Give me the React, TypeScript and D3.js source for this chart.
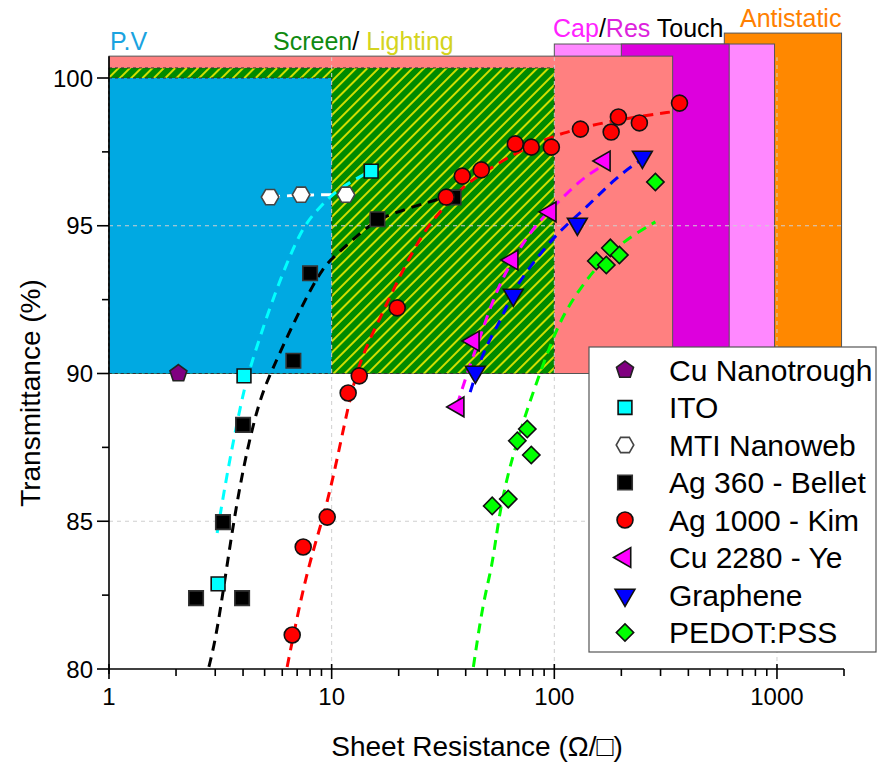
import React from 'react'
import * as d3 from 'd3'

// measured points (sheet resistance in ohm/sq, transmittance in %)
const cuNanoR = [2.05]
const cuNanoT = [90.0]
const itoR = [3.09, 4.04, 15.05]
const itoT = [82.88, 89.92, 96.85]
const mtiR = [5.29, 7.29, 11.6]
const mtiT = [95.97, 96.05, 96.05]
const ag360R = [2.46, 3.96, 3.25, 4.0, 6.73, 8.0, 16.06, 35.3]
const ag360T = [82.4, 82.4, 84.97, 88.26, 90.43, 93.39, 95.22, 95.96]
const ag1000R = [6.65, 7.45, 9.55, 11.86, 13.3, 19.7, 32.7, 38.6, 47, 66.8, 78.8, 97, 131, 180, 194, 241, 365]
const ag1000T = [81.15, 84.13, 85.14, 89.34, 89.92, 92.22, 95.97, 96.68, 96.89, 97.77, 97.66, 97.66, 98.27, 98.17, 98.68, 98.48, 99.15]
const cu2280R = [37.0, 43.3, 64.7, 95.9, 167.8]
const cu2280T = [88.87, 91.1, 93.84, 95.47, 97.19]
const grapheneR = [44.2, 65.4, 126.9, 248.6]
const grapheneT = [90.05, 92.66, 95.06, 97.33]
const pedotR = [52.6, 62.1, 68.2, 75.6, 78.8, 154.4, 171.2, 178.5, 196, 284.4]
const pedotT = [85.52, 85.75, 87.72, 88.12, 87.24, 93.81, 93.67, 94.25, 94.01, 96.48]

// fitted curves
const cyanFitR = [3.06, 3.39, 3.96, 4.3, 5.46, 7.22, 8.61, 10.16, 13.02, 15.05]
const cyanFitT = [84.6, 86.63, 89.2, 90.22, 92.59, 94.86, 95.53, 96.11, 96.62, 96.85]
const blackFitR = [2.81, 3.06, 3.5, 4.0, 4.72, 5.4, 6.51, 8.01, 9.16, 10.16, 13.43, 16.52, 27.2, 35.2]
const blackFitT = [80.07, 81.22, 84.26, 86.84, 89.1, 90.12, 91.47, 92.83, 93.57, 93.94, 94.75, 95.3, 95.8, 96.04]
const redFitR = [6.31, 7.76, 9.55, 11.5, 13.16, 16.52, 20.3, 25.8, 30.7, 39.0, 57.2, 75.6, 106.4, 184, 357]
const redFitT = [80.07, 83.45, 85.48, 88.43, 90.36, 91.88, 93.33, 94.79, 95.47, 96.38, 97.16, 97.66, 98.14, 98.58, 98.88]
const magentaFitR = [36.6, 40.6, 46.5, 55.4, 70.3, 83.9, 103.1, 130.9, 160.9, 178.5]
const magentaFitT = [88.93, 90.02, 91.24, 92.93, 94.28, 95.09, 95.77, 96.55, 96.99, 97.22]
const blueFitR = [41.9, 46.5, 52.6, 58.4, 65.4, 83.9, 106.4, 140.7, 184.1, 236, 270]
const blueFitT = [89.37, 90.47, 91.32, 91.9, 92.83, 93.94, 94.86, 95.64, 96.55, 97.16, 97.4]
const greenFitR = [43.3, 48.0, 52.6, 56.0, 62.1, 76.4, 93.0, 106.4, 130.9, 184.1, 284.4]
const greenFitT = [80.07, 82.33, 83.45, 85.04, 86.73, 88.93, 90.69, 91.81, 92.93, 94.28, 95.13]
const mtiFitR = mtiR
const mtiFitT = mtiT

// application windows: [Rmin, Rmax, Tmin, Tmax]
const antistaticBand = [580, 1950, 90, 101.52]
const touchBand = [100, 975, 90, 101.15]
const resTouchBand = [200, 610, 90, 101.15]
const screenBand = [1, 340, 90, 100.74]
const lightingBand = [1, 100, 90, 100.34]
const pvBand = [1, 10, 90, 100]

const xMajor = [1, 10, 100, 1000]
const xMinor = [2, 3, 4, 5, 6, 7, 8, 9, 20, 30, 40, 50, 60, 70, 80, 90, 200, 300, 400, 500, 600, 700, 800, 900, 2000]
const yMajor = [80, 85, 90, 95, 100]
const yMinor = [82.5, 87.5, 92.5, 97.5]
const xGrid = [10, 100, 1000]
const yGrid = [85, 95]

const FONT = '"Liberation Sans", Arial, sans-serif'

const polygon = (n: number, rot: number) => ({
  draw(ctx: any, size: number) {
    const r = Math.sqrt(size / ((n / 2) * Math.sin((2 * Math.PI) / n)))
    for (let i = 0; i < n; i++) {
      const a = rot + (i * 2 * Math.PI) / n
      const px = r * Math.sin(a)
      const py = -r * Math.cos(a)
      if (i === 0) ctx.moveTo(px, py)
      else ctx.lineTo(px, py)
    }
    ctx.closePath()
  },
})

const series = [
  { name: 'Cu Nanotrough', r: cuNanoR, t: cuNanoT, type: polygon(5, 0), size: 190, rot: 0, fill: '#800080', stroke: '#222' },
  { name: 'ITO', r: itoR, t: itoT, type: d3.symbolSquare, size: 190, rot: 0, fill: '#00FFFF', stroke: '#111' },
  { name: 'MTI Nanoweb', r: mtiR, t: mtiT, type: polygon(6, Math.PI / 6), size: 200, rot: 0, fill: '#FFFFFF', stroke: '#444' },
  { name: 'Ag 360 - Bellet', r: ag360R, t: ag360T, type: d3.symbolSquare, size: 210, rot: 0, fill: '#000000', stroke: '#333' },
  { name: 'Ag 1000 - Kim', r: ag1000R, t: ag1000T, type: d3.symbolCircle, size: 200, rot: 0, fill: '#FF0000', stroke: '#111' },
  { name: 'Cu 2280 - Ye', r: cu2280R, t: cu2280T, type: d3.symbolTriangle, size: 170, rot: -90, fill: '#FF00FF', stroke: '#111' },
  { name: 'Graphene', r: grapheneR, t: grapheneT, type: d3.symbolTriangle, size: 170, rot: 180, fill: '#0000FF', stroke: '#111' },
  { name: 'PEDOT:PSS', r: pedotR, t: pedotT, type: d3.symbolSquare, size: 150, rot: 45, fill: '#00FF00', stroke: '#111' },
]

const fits = [
  { r: mtiFitR, t: mtiFitT, color: '#FFFFFF' },
  { r: cyanFitR, t: cyanFitT, color: '#00FFFF' },
  { r: blackFitR, t: blackFitT, color: '#000000' },
  { r: redFitR, t: redFitT, color: '#FF0000' },
  { r: magentaFitR, t: magentaFitT, color: '#FF00FF' },
  { r: blueFitR, t: blueFitT, color: '#0000FF' },
  { r: greenFitR, t: greenFitT, color: '#00FF00' },
]

const App = () => {
  const width = 881
  const height = 767
  const x = d3.scaleLog().domain([1, 2000]).range([109, 844])
  const y = d3.scaleLinear().domain([80, 100]).range([669, 78])

  const band = (b: number[], fill: string, stroke: string, dash?: string) => (
    <rect
      x={x(b[0])}
      y={y(b[3])}
      width={x(b[1]) - x(b[0])}
      height={y(b[2]) - y(b[3])}
      fill={fill}
      stroke={stroke}
      strokeWidth={1}
      strokeDasharray={dash}
    />
  )

  const line = d3
    .line<number>()
    .curve(d3.curveBasis)

  const symbolPath = (s: any) => d3.symbol().type(s.type).size(s.size)() as string

  return (
    <svg width={width} height={height} style={{ position: 'absolute', left: 0, top: 0 }} fontFamily={FONT}>
      <defs>
        <pattern id="hatch" width={8} height={8} patternUnits="userSpaceOnUse" patternTransform="rotate(45)">
          <rect width={8} height={8} fill="#008A00" />
          <line x1={4} y1={0} x2={4} y2={8} stroke="#E8E800" strokeWidth={1.8} />
        </pattern>
      </defs>
      <rect width={width} height={height} fill="#fff" />

      {/* application bands */}
      {band(antistaticBand, '#FF8800', '#555')}
      {band(touchBand, '#FF88FF', '#555')}
      {band(resTouchBand, '#DD00DD', '#555')}
      {band(screenBand, '#FF8080', '#555')}
      {band(lightingBand, 'url(#hatch)', '#333', '3,3')}
      {band(pvBand, '#00A9E2', '#333', '3,3')}

      {/* grid */}
      {xGrid.map(v => (
        <line key={`gx${v}`} x1={x(v)} x2={x(v)} y1={y(80)} y2={y(100.7)} stroke="#cfcfcf" strokeWidth={1} strokeDasharray="4,4" />
      ))}
      {yGrid.map(v => (
        <line key={`gy${v}`} x1={x(1)} x2={x(2000)} y1={y(v)} y2={y(v)} stroke="#cfcfcf" strokeWidth={1} strokeDasharray="4,4" />
      ))}

      {/* band labels */}
      <text x={110} y={50} fontSize={25} fill="#1AA3E0">P.V</text>
      <text x={273} y={50} fontSize={25}>
        <tspan fill="#108A10">Screen</tspan>
        <tspan fill="#000">/ </tspan>
        <tspan fill="#D4D420">Lighting</tspan>
      </text>
      <text x={553} y={37} fontSize={25}>
        <tspan fill="#FF22FF">Cap</tspan>
        <tspan fill="#000">/</tspan>
        <tspan fill="#DD22DD">Res</tspan>
        <tspan fill="#000"> Touch</tspan>
      </text>
      <text x={740} y={27} fontSize={25} fill="#FF8000">Antistatic</text>

      {/* fitted curves */}
      {fits.map((f, i) => (
        <path
          key={`f${i}`}
          d={line(f.r.map((r, j) => [x(r), y(f.t[j])]) as any) as string}
          fill="none"
          stroke={f.color}
          strokeWidth={3}
          strokeDasharray="10,7"
        />
      ))}

      {/* markers */}
      {series.map(s =>
        s.r.map((r, j) => (
          <path
            key={`${s.name}${j}`}
            d={symbolPath(s)}
            transform={`translate(${x(r)},${y(s.t[j])}) rotate(${s.rot})`}
            fill={s.fill}
            stroke={s.stroke}
            strokeWidth={1.6}
          />
        ))
      )}

      {/* axes */}
      <line x1={x(1)} x2={x(2000)} y1={y(80)} y2={y(80)} stroke="#000" strokeWidth={1.6} />
      <line x1={x(1)} x2={x(1)} y1={y(80) + 5} y2={y(100.74)} stroke="#000" strokeWidth={1.6} />
      {xMajor.map(v => (
        <g key={`xm${v}`}>
          <line x1={x(v)} x2={x(v)} y1={y(80) - 5} y2={y(80) + 10} stroke="#000" strokeWidth={1.6} />
          <text x={x(v)} y={y(80) + 36} fontSize={24} textAnchor="middle">{v}</text>
        </g>
      ))}
      {xMinor.map(v => (
        <line key={`xn${v}`} x1={x(v)} x2={x(v)} y1={y(80)} y2={y(80) + 7} stroke="#000" strokeWidth={1.6} />
      ))}
      {yMajor.map(v => (
        <g key={`ym${v}`}>
          <line x1={x(1) - 12} x2={x(1)} y1={y(v)} y2={y(v)} stroke="#000" strokeWidth={1.6} />
          <text x={x(1) - 16} y={y(v)} fontSize={24} textAnchor="end" dominantBaseline="central">{v}</text>
        </g>
      ))}
      {yMinor.map(v => (
        <line key={`yn${v}`} x1={x(1) - 7} x2={x(1)} y1={y(v)} y2={y(v)} stroke="#000" strokeWidth={1.6} />
      ))}
      <text x={477} y={756} fontSize={28} textAnchor="middle">Sheet Resistance (Ω/□)</text>
      <text transform="translate(40,393) rotate(-90)" fontSize={28} textAnchor="middle">Transmittance (%)</text>

      {/* legend */}
      <rect x={589} y={347} width={287} height={305} fill="#fff" stroke="#555" strokeWidth={1.2} />
      {series.map((s, i) => (
        <g key={`l${i}`} transform={`translate(0,${370 + i * 37.5})`}>
          <path d={symbolPath(s)} transform={`translate(625,0) rotate(${s.rot})`} fill={s.fill} stroke={s.stroke} strokeWidth={1.6} />
          <text x={669} y={0} fontSize={30} dominantBaseline="central">{s.name}</text>
        </g>
      ))}
    </svg>
  )
}

export default App
